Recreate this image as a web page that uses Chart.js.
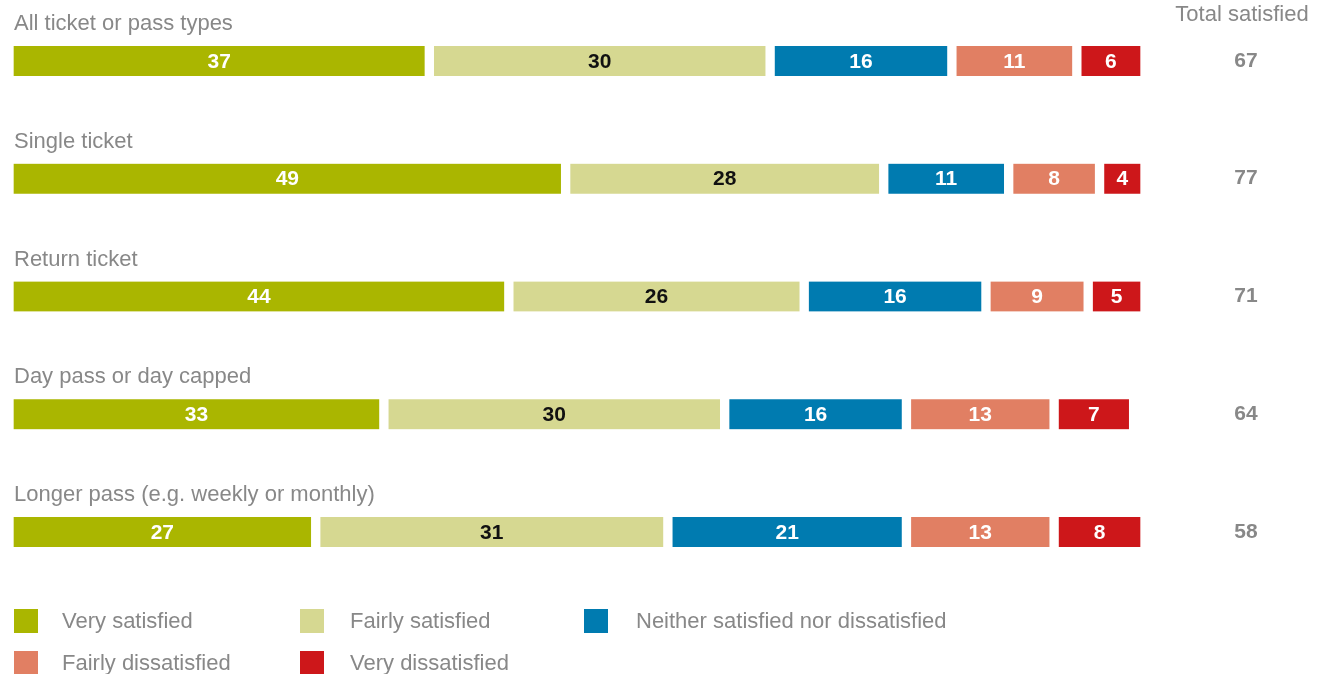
<!DOCTYPE html>
<html>
<head>
<meta charset="utf-8">
<script src="https://cdn.jsdelivr.net/npm/chart.js@4"></script>
<style>
  html, body { margin: 0; padding: 0; background: #fff; }
  #wrap { position: relative; width: 1322px; height: 674px; overflow: hidden; font-family: "Liberation Sans", Arial, sans-serif; }
  canvas { position: absolute; left: 0; top: 0; }
  .lg-box { position: absolute; width: 24px; height: 24px; }
  .lg-text { position: absolute; font-size: 22px; color: #888; line-height: 24px; white-space: nowrap; }
</style>
</head>
<body>
<div id="wrap">
  <canvas id="c" width="1322" height="674"></canvas>
</div>
<script>
const categories = ["All ticket or pass types", "Single ticket", "Return ticket", "Day pass or day capped", "Longer pass (e.g. weekly or monthly)"];
const seriesNames = ["Very satisfied", "Fairly satisfied", "Neither satisfied nor dissatisfied", "Fairly dissatisfied", "Very dissatisfied"];
const seriesColors = ["#aab600", "#d6d891", "#007bb0", "#e17f63", "#cd171a"];
const labelColors = ["#ffffff", "#111111", "#ffffff", "#ffffff", "#ffffff"];
const verySatisfied = [37, 49, 44, 33, 27];
const fairlySatisfied = [30, 28, 26, 30, 31];
const neitherSatisfied = [16, 11, 16, 16, 21];
const fairlyDissatisfied = [11, 8, 9, 13, 13];
const veryDissatisfied = [6, 4, 5, 7, 8];
const totalSatisfied = [67, 77, 71, 64, 58];
const totalHeader = "Total satisfied";

const seriesData = [verySatisfied, fairlySatisfied, neitherSatisfied, fairlyDissatisfied, veryDissatisfied];
const FONT = '"Liberation Sans", Arial, sans-serif';

const overlayPlugin = {
  id: 'overlay',
  afterDatasetsDraw(chart) {
    const ctx = chart.ctx;
    const yScale = chart.scales.y;
    ctx.save();
    ctx.textAlign = 'center';
    ctx.textBaseline = 'middle';
    ctx.font = 'bold 21px ' + FONT;
    chart.data.datasets.forEach((ds, di) => {
      const meta = chart.getDatasetMeta(di);
      meta.data.forEach((el, i) => {
        const p = el.getProps(['x', 'y', 'base'], true);
        ctx.fillStyle = labelColors[di];
        ctx.fillText(String(ds.data[i]), (p.x + p.base) / 2, p.y + 1);
      });
    });
    ctx.fillStyle = '#888';
    categories.forEach((c, i) => {
      const y = yScale.getPixelForValue(i);
      ctx.textAlign = 'left';
      ctx.font = '22px ' + FONT;
      ctx.fillText(c, 14, y - 37);
      ctx.textAlign = 'center';
      ctx.font = 'bold 21px ' + FONT;
      ctx.fillText(String(totalSatisfied[i]), 1246, y);
    });
    ctx.font = '22px ' + FONT;
    ctx.textAlign = 'center';
    ctx.fillText(totalHeader, 1242, 15);
    ctx.restore();
  }
};

new Chart(document.getElementById('c'), {
  type: 'bar',
  data: {
    labels: categories,
    datasets: seriesNames.map((n, i) => ({
      label: n,
      data: seriesData[i],
      backgroundColor: seriesColors[i],
      borderColor: '#ffffff',
      borderWidth: { left: 5, right: 5, top: 0, bottom: 0 },
      borderSkipped: false,
      barThickness: 30
    }))
  },
  options: {
    indexAxis: 'y',
    responsive: false,
    animation: false,
    layout: { padding: { left: 9, right: 177, top: 2, bottom: 83 } },
    scales: {
      x: { stacked: true, min: 0, max: 100, display: false },
      y: { stacked: true, display: false }
    },
    plugins: { legend: { display: false }, tooltip: { enabled: false } }
  },
  plugins: [overlayPlugin]
});

const legendPos = [
  { bx: 14, tx: 62, y: 609 },
  { bx: 300, tx: 350, y: 609 },
  { bx: 584, tx: 636, y: 609 },
  { bx: 14, tx: 62, y: 651 },
  { bx: 300, tx: 350, y: 651 }
];
const wrap = document.getElementById('wrap');
seriesNames.forEach((n, i) => {
  const b = document.createElement('div');
  b.className = 'lg-box';
  b.style.left = legendPos[i].bx + 'px';
  b.style.top = legendPos[i].y + 'px';
  b.style.background = seriesColors[i];
  wrap.appendChild(b);
  const t = document.createElement('div');
  t.className = 'lg-text';
  t.style.left = legendPos[i].tx + 'px';
  t.style.top = legendPos[i].y + 'px';
  t.textContent = n;
  wrap.appendChild(t);
});
</script>
</body>
</html>
